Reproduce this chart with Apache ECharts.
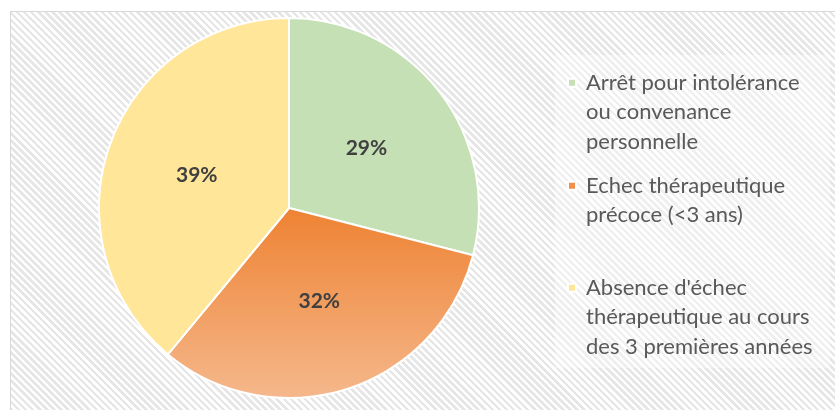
<!DOCTYPE html>
<html>
<head>
<meta charset="utf-8">
<script src="https://cdn.jsdelivr.net/npm/echarts@6/dist/echarts.min.js"></script>
<style>
    html, body { margin: 0; padding: 0; background: #fff; }
    #frame {
        position: absolute; left: 10px; top: 11px; width: 840px; height: 420px;
        border: 1px solid #d9d9d9;
        background: repeating-linear-gradient(45deg, #e6e6e6 0px, #e6e6e6 2.5px, #ffffff 2.5px, #ffffff 5px);
    }
    #main { position: absolute; left: 0; top: 0; width: 835px; height: 410px; }
</style>
</head>
<body>
<div id="frame"></div>
<div id="main"></div>
<script>
    // données
    var categories = [
        'Arrêt pour intolérance\nou convenance\npersonnelle',
        'Echec thérapeutique\nprécoce (<3 ans)',
        "Absence d'échec\nthérapeutique au cours\ndes 3 premières années"
    ];
    var values = [29, 32, 39];
    var colors = ['#c5e0b4', '#f0904c', '#ffe699'];

    var dom = document.getElementById('main');
    var myChart = echarts.init(dom);
    var option = null;

    // légende : une par catégorie, icône alignée sur la première ligne
    var lh = 29.5;
    var legendTops = [67, 170, 272];
    var legends = categories.map(function (name, i) {
        var nLines = name.split('\n').length;
        var h = nLines * lh;
        var y0 = lh / 2 - 4;
        return {
            orient: 'vertical',
            left: 567,
            top: legendTops[i],
            padding: 0,
            itemWidth: 8,
            itemHeight: h,
            icon: 'path://M0,0 M8,' + h + ' M0,' + y0 + 'h8v8h-8z',
            selectedMode: false,
            data: [{ name: name, itemStyle: { color: colors[i] } }],
            textStyle: {
                fontFamily: 'Lato',
                fontSize: 22,
                color: '#595959',
                lineHeight: lh,
                padding: [0, 0, 0, 5]
            }
        };
    });

    option = {
        backgroundColor: 'transparent',
        animation: false,
        graphic: [{
            type: 'rect',
            left: 555, top: 55,
            shape: { width: 275, height: 313 },
            style: { fill: 'rgba(255,255,255,0.35)' },
            z: 0
        }],
        legend: legends,
        series: [{
            type: 'pie',
            center: [289, 208],
            radius: 190,
            startAngle: 90,
            clockwise: true,
            avoidLabelOverlap: false,
            emphasis: { disabled: true },
            itemStyle: { borderColor: '#fff', borderWidth: 2 },
            label: {
                show: true,
                position: 'inside',
                formatter: '{c}%',
                fontFamily: 'Lato',
                fontWeight: 'bold',
                fontSize: 21,
                color: '#404040'
            },
            labelLine: { show: false },
            data: categories.map(function (name, i) {
                var c = colors[i];
                if (i === 1) {
                    c = new echarts.graphic.LinearGradient(0, 0, 0, 1, [
                        { offset: 0, color: '#ee8232' },
                        { offset: 1, color: '#f5b88c' }
                    ]);
                }
                return { name: name, value: values[i], itemStyle: { color: c } };
            })
        }]
    };
    if (option && typeof option === 'object') {
        myChart.setOption(option, true);
    }
</script>
</body>
</html>
